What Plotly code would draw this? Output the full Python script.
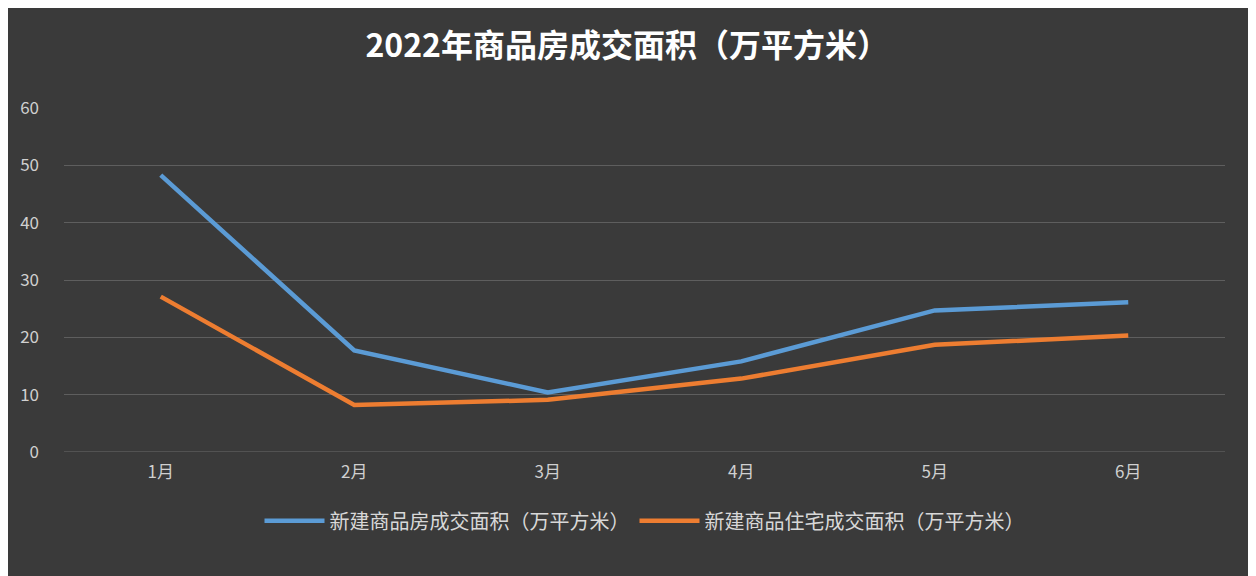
import plotly.graph_objects as go

months = ['1月', '2月', '3月', '4月', '5月', '6月']
house_area = [48.3, 17.7, 10.4, 15.8, 24.7, 26.1]
residence_area = [27.1, 8.2, 9.1, 12.8, 18.7, 20.3]

fig = go.Figure()
fig.add_trace(go.Scatter(x=months, y=house_area, mode='lines',
                         name='新建商品房成交面积（万平方米）',
                         line=dict(color='#5b9bd5', width=4.5)))
fig.add_trace(go.Scatter(x=months, y=residence_area, mode='lines',
                         name='新建商品住宅成交面积（万平方米）',
                         line=dict(color='#ed7d31', width=4.5)))

fig.update_layout(
    width=1256, height=576,
    paper_bgcolor='#3a3a3a', plot_bgcolor='#3a3a3a',
    font=dict(family='Noto Sans CJK SC', color='#d0d0d0', size=17),
    title=dict(text='<b>2022年商品房成交面积（万平方米）</b>', x=0.493, xanchor='center',
               y=0.935, yanchor='middle', font=dict(size=32, color='white')),
    margin=dict(l=50, r=39, t=100, b=132),
    xaxis=dict(range=[-0.5, 5.5], showgrid=False, showline=False, zeroline=False,
               ticks='', ticklabelstandoff=8),
    yaxis=dict(range=[0, 60], dtick=10, gridcolor='#5e5e5e', gridwidth=1,
               zeroline=False, ticks='', ticklabelstandoff=24),
    legend=dict(orientation='h', x=0.5, xanchor='center', y=-0.2, yanchor='middle',
                font=dict(size=20, color='#d8d8d8'), itemwidth=60),
    showlegend=True,
)
fig.add_shape(type='line', xref='paper', yref='y', x0=0, x1=1, y0=0, y1=0,
              line=dict(color='#6a6a6a', width=1))

fig.write_html('out.html')
